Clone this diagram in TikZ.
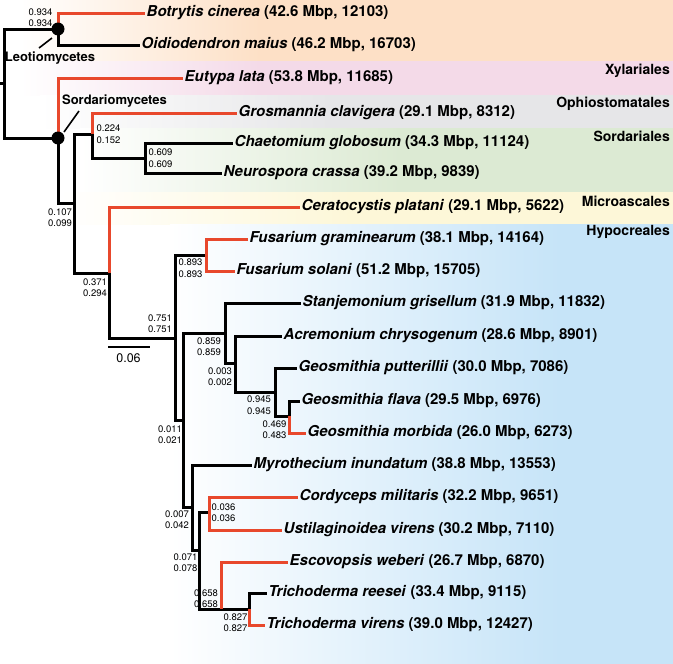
\documentclass[tikz,border=0pt]{standalone}
\usepackage{fontspec}
\setmainfont{TeX Gyre Heros}
\definecolor{cOr}{RGB}{253,224,198}
\definecolor{cPk}{RGB}{244,218,232}
\definecolor{cGy}{RGB}{230,230,232}
\definecolor{cGn}{RGB}{220,234,211}
\definecolor{cYe}{RGB}{253,247,216}
\definecolor{cBl}{RGB}{198,228,248}
\definecolor{tred}{RGB}{232,72,44}
\tikzset{
  leaf/.style={anchor=west, inner sep=1.5pt, font=\bfseries\fontsize{15}{18}\selectfont},
  clade/.style={inner sep=0pt, font=\bfseries\fontsize{13}{15}\selectfont},
  order/.style={inner sep=0pt, anchor=east, font=\bfseries\fontsize{14}{16}\selectfont},
  num/.style={inner sep=0pt, align=right, font=\fontsize{9.5}{11.5}\selectfont},
  br/.style={line width=3pt, black},
  rbr/.style={line width=3pt, tred},
  ptr/.style={line width=1.6pt, black},
}
\begin{document}
\begin{tikzpicture}[x=1pt,y=-1pt]
\useasboundingbox (0,0) rectangle (673,664);
% background bands
\newcommand{\band}[5]{%
  \shade[left color=white, right color=#5] (#3,#1) rectangle (#4,#2);
  \fill[#5] (#4,#1) rectangle (673,#2);}
\band{0}{61}{20}{260}{cOr}
\band{61}{95}{20}{260}{cPk}
\band{95}{128}{40}{330}{cGy}
\band{128}{192}{80}{400}{cGn}
\band{192}{224}{60}{350}{cYe}
\band{224}{664}{170}{560}{cBl}

% internal node positions
\coordinate (rstub) at (0,83);
\coordinate (root) at (4,83);
\coordinate (leo) at (58,29);
\coordinate (sor) at (58,138);
\coordinate (nA) at (74,203);
\coordinate (nB) at (92,134);
\coordinate (nC) at (145,158);
\coordinate (nD) at (109,273);
\coordinate (nE) at (175,338);
\coordinate (nG) at (206,255);
\coordinate (nF) at (183,420);
\coordinate (nI) at (225,333);
\coordinate (nJ) at (235,363);
\coordinate (nK) at (275,392);
\coordinate (nL) at (289,416);
\coordinate (nH) at (192,507);
\coordinate (nM) at (199,550);
\coordinate (nN) at (209,512);
\coordinate (nO) at (221,609);
\coordinate (nP) at (249,609);

% leaves
\node[leaf] (bot) at (145,13) {\textit{Botrytis cinerea} (42.6 Mbp, 12103)};
\node[leaf] (oid) at (140,45) {\textit{Oidiodendron maius} (46.2 Mbp, 16703)};
\node[leaf] (eut) at (183,78) {\textit{Eutypa lata} (53.8 Mbp, 11685)};
\node[leaf] (gro) at (237,113) {\textit{Grosmannia clavigera} (29.1 Mbp, 8312)};
\node[leaf] (cha) at (233,143) {\textit{Chaetomium globosum} (34.3 Mbp, 11124)};
\node[leaf] (neu) at (222,173) {\textit{Neurospora crassa} (39.2 Mbp, 9839)};
\node[leaf] (cer) at (300,207) {\textit{Ceratocystis platani} (29.1 Mbp, 5622)};
\node[leaf] (fgr) at (248,239) {\textit{Fusarium graminearum} (38.1 Mbp, 14164)};
\node[leaf] (fso) at (235,271) {\textit{Fusarium solani} (51.2 Mbp, 15705)};
\node[leaf] (sta) at (301,303) {\textit{Stanjemonium grisellum} (31.9 Mbp, 11832)};
\node[leaf] (acr) at (282,336) {\textit{Acremonium chrysogenum} (28.6 Mbp, 8901)};
\node[leaf] (gpu) at (297,368) {\textit{Geosmithia putterillii} (30.0 Mbp, 7086)};
\node[leaf] (gfl) at (300,401) {\textit{Geosmithia flava} (29.5 Mbp, 6976)};
\node[leaf] (gmo) at (306,433) {\textit{Geosmithia morbida} (26.0 Mbp, 6273)};
\node[leaf] (myr) at (252,465) {\textit{Myrothecium inundatum} (38.8 Mbp, 13553)};
\node[leaf] (cor) at (298,497) {\textit{Cordyceps militaris} (32.2 Mbp, 9651)};
\node[leaf] (ust) at (282,530) {\textit{Ustilaginoidea virens} (30.2 Mbp, 7110)};
\node[leaf] (esc) at (288,562) {\textit{Escovopsis weberi} (26.7 Mbp, 6870)};
\node[leaf] (tre) at (267,593) {\textit{Trichoderma reesei} (33.4 Mbp, 9115)};
\node[leaf] (tvi) at (265,625) {\textit{Trichoderma virens} (39.0 Mbp, 12427)};

% black branches
\draw[br] (rstub) -- (root);
\draw[br] (root) |- (leo);
\draw[br] (root) |- (sor);
\draw[br] (leo) |- (oid.west);
\draw[br] (sor) |- (nA);
\draw[br] (nA) |- (nB);
\draw[br] (nA) |- (nD);
\draw[br] (nB) |- (nC);
\draw[br] (nC) |- (cha.west);
\draw[br] (nC) |- (neu.west);
\draw[br] (nD) |- (nE);
\draw[br] (nE) |- (nG);
\draw[br] (nE) |- (nF);
\draw[br] (nF) |- (nI);
\draw[br] (nF) |- (nH);
\draw[br] (nI) |- (sta.west);
\draw[br] (nI) |- (nJ);
\draw[br] (nJ) |- (acr.west);
\draw[br] (nJ) |- (nK);
\draw[br] (nK) |- (gpu.west);
\draw[br] (nK) |- (nL);
\draw[br] (nL) |- (gfl.west);
\draw[br] (nH) |- (myr.west);
\draw[br] (nH) |- (nM);
\draw[br] (nM) |- (nN);
\draw[br] (nM) |- (nO);
\draw[br] (nO) -- (nP);
\draw[br] (nP) |- (tre.west);
% red branches
\draw[rbr] (leo) |- (bot.west);
\draw[rbr] (sor) |- (eut.west);
\draw[rbr] (nB) |- (gro.west);
\draw[rbr] (nD) |- (cer.west);
\draw[rbr] (nG) |- (fgr.west);
\draw[rbr] (nG) |- (fso.west);
\draw[rbr] (nL) |- (gmo.west);
\draw[rbr] (nN) |- (cor.west);
\draw[rbr] (nN) |- (ust.west);
\draw[rbr] (nO) |- (esc.west);
\draw[rbr] (nP) |- (tvi.west);

% class dots
\fill (leo) circle (6.5);
\fill (sor) circle (6.5);

% class labels and pointers
\node[clade] (leolab) at (50,58) {Leotiomycetes};
\node[clade] (sorlab) at (114.5,101) {Sordariomycetes};
\coordinate (leoa) at (39,48);
\coordinate (leob) at (52,38);
\coordinate (sora) at (64,132);
\coordinate (sorb) at (79,111);
\draw[ptr] (leoa) -- (leob);
\draw[ptr] (sora) -- (sorb);

% order labels
\node[order] (xyl) at (670,71) {Xylariales};
\node[order] (oph) at (670,104) {Ophiostomatales};
\node[order] (sdl) at (670,136) {Sordariales};
\node[order] (mic) at (670,201) {Microascales};
\node[order] (hyp) at (670,232) {Hypocreales};

% support values
\node[num] (lleo) at (40.5,17.5) {0.934\\0.934};
\node[num] (lB) at (108.5,134) {0.224\\0.152};
\node[num] (lC) at (160.5,158) {0.609\\0.609};
\node[num] (lA) at (60,217.5) {0.107\\0.099};
\node[num] (lD) at (95,287.5) {0.371\\0.294};
\node[num] (lE) at (160,323.5) {0.751\\0.751};
\node[num] (lG) at (190.5,268) {0.893\\0.893};
\node[num] (lF) at (170,434.5) {0.011\\0.021};
\node[num] (lI) at (209,346.5) {0.859\\0.859};
\node[num] (lJ) at (220,376.5) {0.003\\0.002};
\node[num] (lK) at (259,405) {0.945\\0.945};
\node[num] (lL) at (274.5,429.5) {0.469\\0.483};
\node[num] (lH) at (177,519.5) {0.007\\0.042};
\node[num] (lM) at (185.5,562.5) {0.071\\0.078};
\node[num] (lN) at (223.5,512.5) {0.036\\0.036};
\node[num] (lO) at (206,598.5) {0.658\\0.658};
\node[num] (lP) at (235.5,622.5) {0.827\\0.827};

% scale bar
\coordinate (sb1) at (108,347);
\coordinate (sb2) at (150,347);
\draw[line width=2.5pt] (sb1) -- (sb2);
\node[inner sep=0pt, font=\fontsize{12.5}{14}\selectfont] (sblab) at (128.5,358) {0.06};
\end{tikzpicture}
\end{document}
